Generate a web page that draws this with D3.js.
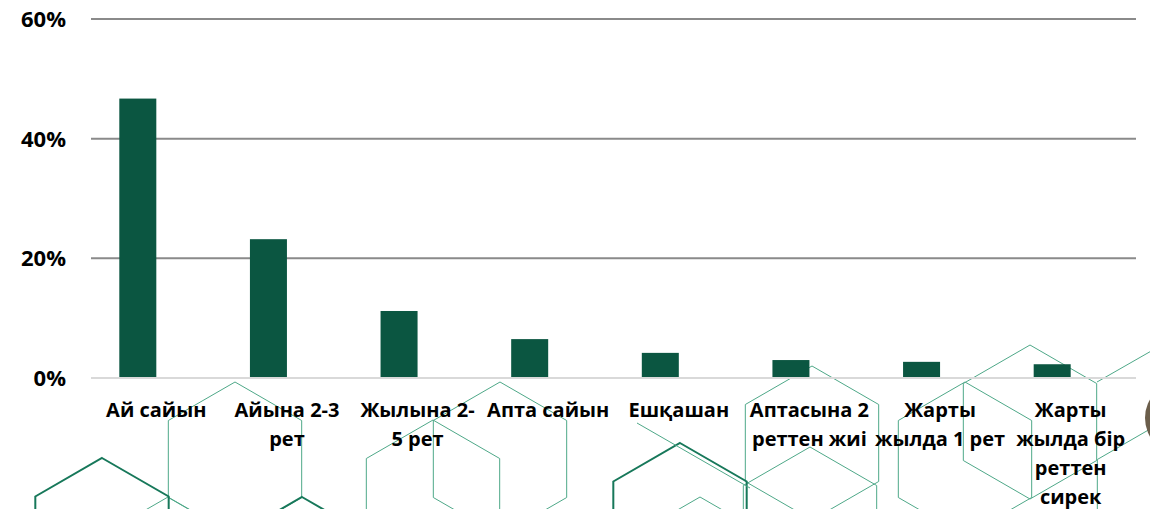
<!DOCTYPE html>
<html lang="kk">
<head>
  <meta charset="UTF-8">
  <title>Жиілік</title>
  <script src="https://cdn.jsdelivr.net/npm/d3@7"></script>
  <style>
    body { margin: 0; background: #fff; overflow: hidden; }
    svg { display: block; font-family: 'Open Sans', sans-serif; }
    .tick-label { font-size: 22px; font-weight: 700; fill: #000; }
    .cat-label { font-size: 20px; font-weight: 700; fill: #000; }
  </style>
</head>
<body>
<svg id="chart" width="1150" height="509"></svg>
<script>
  // data
  const categories = [
    "Ай сайын",
    "Айына 2-3\nрет",
    "Жылына 2-\n5 рет",
    "Апта сайын",
    "Ешқашан",
    "Аптасына 2\nреттен жиі",
    "Жарты\nжылда 1 рет",
    "Жарты\nжылда бір\nреттен\nсирек"
  ];
  const values = [46.7, 23.2, 11.2, 6.5, 4.2, 3.0, 2.7, 2.3];
  const yTicks = [0, 20, 40, 60];
  // the source chart has an empty second series slot beside each bar
  const seriesSlots = ["main", "empty"];

  // background honeycomb decoration: [cx, cy, thick]
  const hexes = [
    [235, 459, 0], [433, 497, 0], [500, 459, 0], [812, 443, 0], [810, 524, 0],
    [965, 459, 0], [1030, 422, 0], [1164, 498, 0], [700, 574, 0],
    [168, 574, 0], [102, 535, 1], [680, 520, 1], [302, 574, 1]
  ];
  const strays = [[1097, 382, 1160, 346], [637, 423, 750, 488]];

  const W = 1150, H = 509;
  const margin = { top: 19, right: 14, bottom: 131, left: 91 };
  const svg = d3.select("#chart");

  // decoration first, so everything sits on top
  const r = 77;
  const hexPath = (cx, cy) => {
    const pts = d3.range(6).map(i => {
      const a = Math.PI / 180 * (60 * i - 90);
      return [cx + r * Math.cos(a), cy + r * Math.sin(a)];
    });
    return "M" + pts.join("L") + "Z";
  };
  const deco = svg.append("g");
  deco.selectAll("path")
    .data(hexes)
    .enter().append("path")
    .attr("d", d => hexPath(d[0], d[1]))
    .attr("fill", "none")
    .attr("stroke", d => d[2] ? "#17785a" : "#4ea888")
    .attr("stroke-width", d => d[2] ? 2 : 1);
  deco.selectAll("line")
    .data(strays)
    .enter().append("line")
    .attr("x1", d => d[0]).attr("y1", d => d[1])
    .attr("x2", d => d[2]).attr("y2", d => d[3])
    .attr("stroke", "#4ea888").attr("stroke-width", 1);

  svg.append("circle")
    .attr("cx", 1182).attr("cy", 418).attr("r", 37)
    .attr("fill", "#6b5e4b");

  const x = d3.scaleBand()
    .domain(categories)
    .range([margin.left, W - margin.right])
    .padding(0);

  const xs = d3.scaleBand()
    .domain(seriesSlots)
    .range([0, x.bandwidth()])
    .paddingInner(0)
    .paddingOuter(0.765);

  const y = d3.scaleLinear()
    .domain([0, 60])
    .range([H - margin.bottom, margin.top]);

  // gridlines
  svg.append("g").selectAll("line")
    .data(yTicks)
    .enter().append("line")
    .attr("x1", margin.left).attr("x2", W - margin.right)
    .attr("y1", d => y(d)).attr("y2", d => y(d))
    .attr("stroke", d => d === 0 ? "#d9d9d9" : "#8a8a8a")
    .attr("stroke-width", 2);

  svg.append("g").selectAll("text")
    .data(yTicks)
    .enter().append("text")
    .attr("class", "tick-label")
    .attr("x", 66)
    .attr("y", d => y(d))
    .attr("dy", "0.36em")
    .attr("text-anchor", "end")
    .text(d => d + "%");

  // bars
  svg.append("g").selectAll("rect")
    .data(values)
    .enter().append("rect")
    .attr("x", (d, i) => x(categories[i]) + xs("main"))
    .attr("y", d => y(d))
    .attr("width", xs.bandwidth())
    .attr("height", d => y(0) - y(d) - 1)
    .attr("fill", "#0b5641");

  // category labels
  const labels = svg.append("g").selectAll("text")
    .data(categories)
    .enter().append("text")
    .attr("class", "cat-label")
    .attr("text-anchor", "middle")
    .attr("x", d => x(d) + x.bandwidth() / 2)
    .attr("y", 417);

  labels.selectAll("tspan")
    .data(d => d.split("\n").map(t => ({ t, cx: x(d) + x.bandwidth() / 2 })))
    .enter().append("tspan")
    .attr("x", d => d.cx)
    .attr("dy", (d, i) => i === 0 ? 0 : 29)
    .text(d => d.t);
</script>
</body>
</html>
